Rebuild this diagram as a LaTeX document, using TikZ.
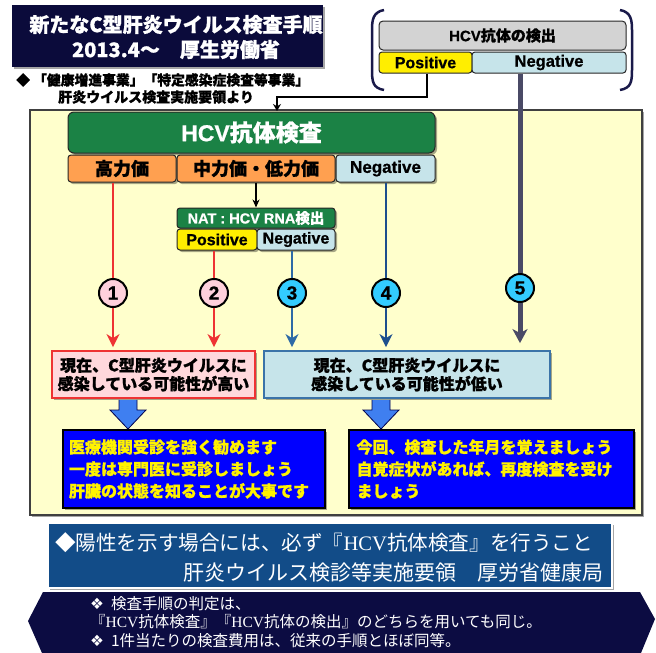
\documentclass[tikz,border=0pt]{standalone}
\usepackage{fontspec}
\setmainfont{Noto Sans CJK JP}[BoldFeatures={FakeBold=1}]
\newfontfamily\lat{Liberation Sans}[BoldFeatures={FakeBold=0.8}]
\newfontfamily\latserif{Liberation Serif}
\newfontfamily\dv{DejaVu Sans}
\usetikzlibrary{arrows.meta,shadows,calc}
\newcommand\fsz[2]{\fontsize{#1}{#2}\selectfont}
\definecolor{titlenavy}{HTML}{0B0B3B}
\definecolor{panelyel}{HTML}{FFFFCC}
\definecolor{hgreen}{HTML}{1B8245}
\definecolor{horange}{HTML}{FFA050}
\definecolor{lblue}{HTML}{C6E4EA}
\definecolor{pyellow}{HTML}{FFEE00}
\definecolor{dgray}{HTML}{D3D3D3}
\definecolor{pinkfill}{HTML}{FFD8DC}
\definecolor{redline}{HTML}{EE3333}
\definecolor{bline3}{HTML}{2E6AA6}
\definecolor{bline4}{HTML}{1D4F8E}
\definecolor{thickgray}{HTML}{4A4A66}
\definecolor{circpink}{HTML}{FFD0DC}
\definecolor{circcyan}{HTML}{33CCFF}
\definecolor{blockblue}{HTML}{3F7FF0}
\definecolor{purblue}{HTML}{0000FF}
\definecolor{stepblue}{HTML}{124C88}
\definecolor{bannernavy}{HTML}{0C0C42}
\definecolor{bracketnavy}{HTML}{1A1A4A}
\definecolor{lbborder}{HTML}{3B73A8}
\tikzset{
  shad/.style={drop shadow={shadow xshift=2pt,shadow yshift=-2pt,opacity=0.35,fill=black}},
  plainbox/.style={rectangle, inner sep=0pt, draw=black!85, line width=1pt},
  hdr/.style={plainbox, rounded corners=3pt},
  circ/.style={circle, draw=black, line width=2pt, minimum size=28pt, inner sep=0pt, font=\lat\bfseries\fsz{19}{19}},
  redln/.style={draw=redline, line width=2pt},
  tipx/.style={-{Stealth[length=13pt,width=13pt,inset=4pt]}},
  blockarr/.style={fill=blockblue, draw=black!70!blue, line width=0.8pt, line join=miter},
  darkbox/.style={plainbox, fill=purblue, draw=black, line width=2pt, shad, text=yellow, align=left, font=\bfseries\fsz{16}{22}},
  txt/.style={inner sep=0pt}
}
\begin{document}
\begin{tikzpicture}[x=1pt,y=-1pt]
\useasboundingbox (0,0) rectangle (656,653);

% title
\node[rectangle, fill=titlenavy, minimum width=311pt, minimum height=62pt, shad] (title) at (167.5,36) {};
\node[txt, text=white, align=center, font=\bfseries\fsz{20}{25}] (titletext) at (176,37) {新たなC型肝炎ウイルス検査手順\\2013.4〜　厚生労働省};

\node[txt, anchor=west, font=\bfseries\fsz{13.8}{16}] (note1) at (16,80) {◆ 「健康増進事業」「特定感染症検査等事業」};
\node[txt, anchor=west, font=\bfseries\fsz{14}{16}] (note2) at (58,97) {肝炎ウイルス検査実施要領より};

% bracket group
\draw[bracketnavy, line width=2.5pt] (384,10) .. controls (373,12) and (372,20) .. (372,30) -- (372,70) .. controls (372,82) and (373,88) .. (384,90);
\draw[bracketnavy, line width=2.5pt] (620,10) .. controls (631,12) and (632,20) .. (632,30) -- (632,70) .. controls (632,82) and (631,88) .. (620,90);
\node[hdr, fill=dgray, rounded corners=4pt, minimum width=247pt, minimum height=29pt, font=\bfseries\fsz{15}{15}] (detect) at (502.5,35.5) {{\lat HCV}抗体の検出};
\node[hdr, fill=pyellow, minimum width=93pt, minimum height=21pt, font=\lat\bfseries\fsz{16}{16}] (dpos) at (425.5,62.5) {Positive};
\node[hdr, fill=lblue, minimum width=154pt, minimum height=21pt, font=\lat\bfseries\fsz{16.5}{16}] (dneg) at (549,62.5) {Negative};

% panel
\node[rectangle, fill=panelyel, draw=black!75, line width=1.2pt, minimum width=612pt, minimum height=405pt, shad] (panel) at (336,312.5) {};

\coordinate (bend) at (277,97);
\coordinate (pin) at (277,111);
\draw[line width=2.5pt, -{Stealth[length=7pt,width=8pt]}] (dpos.south -| 427,0) |- (bend) -- (pin);

% main test
\node[hdr, fill=hgreen, rounded corners=6pt, minimum width=367pt, minimum height=41pt, text=white, font=\bfseries\fsz{23}{23}, shad] (hcv) at (251.5,132.5) {{\lat HCV}抗体検査};
\node[hdr, fill=horange, minimum width=108pt, minimum height=27pt, font=\bfseries\fsz{18}{18}, shad] (high) at (122,168.5) {高力価};
\node[hdr, fill=horange, minimum width=158pt, minimum height=27pt, font=\bfseries\fsz{18}{18}, shad] (mid) at (256,168.5) {中力価・低力価};
\node[hdr, fill=lblue, minimum width=99pt, minimum height=27pt, font=\lat\bfseries\fsz{17}{17}, shad] (neg1) at (385.5,168.5) {Negative};

\node[hdr, fill=hgreen, minimum width=158pt, minimum height=20pt, text=white, font=\bfseries\fsz{14.5}{14.5}, shad] (nat) at (256,218) {{\lat NAT : HCV RNA}検出};
\node[hdr, fill=pyellow, minimum width=80pt, minimum height=21pt, font=\lat\bfseries\fsz{16}{16}, shad] (npos) at (217,239.5) {Positive};
\node[hdr, fill=lblue, minimum width=78pt, minimum height=21pt, font=\lat\bfseries\fsz{16}{16}, shad] (nneg) at (296,239.5) {Negative};
\draw[line width=1.5pt, -{Stealth[length=8pt,width=7pt]}] (mid.south) -- (nat.north);

% result boxes
\node[plainbox, fill=pinkfill, draw=redline, line width=1.8pt, minimum width=203pt, minimum height=47pt, align=center, font=\bfseries\fsz{16}{18.5}, shad] (pink) at (153.5,374.5) {現在、C型肝炎ウイルスに\\感染している可能性が高い};
\node[plainbox, fill=lblue, draw=lbborder, line width=1.8pt, minimum width=286pt, minimum height=47pt, align=center, font=\bfseries\fsz{16}{18.5}, shad] (lbox) at (407,374.5) {現在、C型肝炎ウイルスに\\感染している可能性が低い};

% circles
\node[circ, fill=circpink] (c1) at (113,293) {1};
\node[circ, fill=circpink] (c2) at (214,293) {2};
\node[circ, fill=circcyan] (c3) at (292,293) {3};
\node[circ, fill=circcyan] (c4) at (386,293) {4};
\node[circ, fill=circcyan] (c5) at (520,288) {5};

\draw[redln] (c1 |- high.south) -- (c1.north);
\draw[redln, tipx, shorten >=3pt] (c1.south) -- (c1 |- pink.north);
\draw[redln] (c2 |- npos.south) -- (c2.north);
\draw[redln, tipx, shorten >=3pt] (c2.south) -- (c2 |- pink.north);
\draw[bline3, line width=2pt] (c3 |- nneg.south) -- (c3.north);
\draw[bline3, line width=2pt, tipx, shorten >=3pt] (c3.south) -- (c3 |- lbox.north);
\draw[bline4, line width=2pt] (c4 |- neg1.south) -- (c4.north);
\draw[bline4, line width=2pt, tipx, shorten >=3pt] (c4.south) -- (c4 |- lbox.north);

\draw[thickgray, line width=5pt] (c5 |- dneg.south) -- (c5.north);
\draw[thickgray, line width=5pt, shorten >=7pt, -{Stealth[length=14pt,width=15pt,inset=4pt]}] (c5.south) -- (c5 |- lbox.north);

% advice boxes
\node[darkbox, minimum width=262pt, minimum height=78pt, text width=250pt] (dark1) at (194,469) {医療機関受診を強く勧めます\\一度は専門医に受診しましょう\\肝臓の状態を知ることが大事です};
\node[darkbox, minimum width=285pt, minimum height=78pt, text width=270pt] (dark2) at (491.5,469) {今回、検査した年月を覚えましょう\\自覚症状があれば、再度検査を受け\\ましょう};

\coordinate (b1x) at (128,0);
\coordinate (b2x) at (381,0);
\filldraw[blockarr] ($(pink.south -| b1x)+(-9,1)$) -- ($(dark1.north -| b1x)+(-9,-19)$) -- ($(dark1.north -| b1x)+(-18,-19)$) -- (dark1.north -| b1x) -- ($(dark1.north -| b1x)+(18,-19)$) -- ($(dark1.north -| b1x)+(9,-19)$) -- ($(pink.south -| b1x)+(9,1)$);
\filldraw[blockarr] ($(lbox.south -| b2x)+(-9,1)$) -- ($(dark2.north -| b2x)+(-9,-19)$) -- ($(dark2.north -| b2x)+(-18,-19)$) -- (dark2.north -| b2x) -- ($(dark2.north -| b2x)+(18,-19)$) -- ($(dark2.north -| b2x)+(9,-19)$) -- ($(lbox.south -| b2x)+(9,1)$);

% bottom notice
\node[rectangle, fill=stepblue, draw=white, line width=2.5pt, minimum width=564pt, minimum height=65pt, shad] (notice) at (330,555.5) {};
\node[txt, anchor=west, text=white, font=\fsz{20.6}{22}] (hl1) at (55,543) {◆陽性を示す場合には、必ず『{\latserif HCV}抗体検査』を行うこと};
\node[txt, anchor=east, text=white, font=\fsz{21}{22}] (hl2) at (604,573) {肝炎ウイルス検診等実施要領　厚労省健康局};

% banner
\fill[bannernavy] (43,592) -- (640,592) -- (655,619) -- (641,653) -- (42,653) -- (28,621) -- cycle;
\node[txt, anchor=west, text=white, align=left, font=\fsz{15.5}{18.5}] (bn) at (90,622) {{\dv ❖}\ \ 検査手順の判定は、\\『{\latserif HCV}抗体検査』『{\latserif HCV}抗体の検出』のどちらを用いても同じ。\\{\dv ❖}\ \ 1件当たりの検査費用は、従来の手順とほぼ同等。};
\end{tikzpicture}
\end{document}
